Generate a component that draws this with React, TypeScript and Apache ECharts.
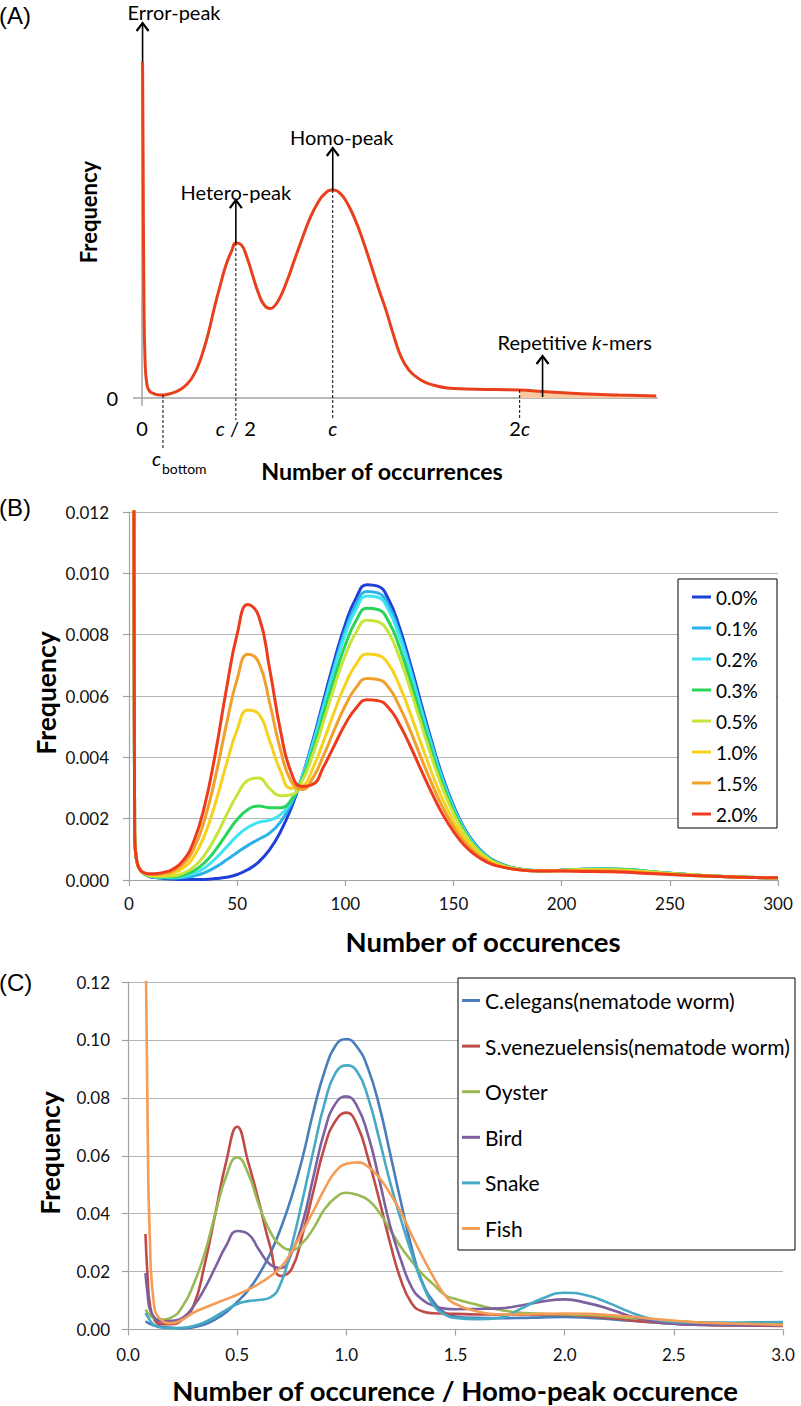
import React, { useEffect, useRef } from 'react';
import * as echarts from 'echarts';

// ---------------- Panel A (schematic) ----------------
const aX = [0.3, 0.6, 1.0, 1.6, 2.6, 4, 6, 8, 11, 14, 17, 20, 23, 26, 29, 32, 35, 38, 41, 44, 47, 49.2, 52, 55, 58, 61, 64, 67, 69, 72, 76, 80, 84, 88, 92, 96, 100, 104, 108, 112, 116, 120, 124, 128, 132, 136, 140, 144, 148, 153, 160, 170, 185, 198, 210, 230, 250, 269.6];
const aY = [100, 70, 30, 11.3, 3.9, 2.0, 1.35, 1.0, 0.9, 1.2, 1.7, 2.5, 3.8, 5.8, 9.0, 13.8, 19.8, 27, 33.5, 39.5, 43.8, 46.1, 45.6, 41.9, 36.5, 31.3, 27.7, 26.6, 27.1, 29.5, 34.8, 41.2, 47.5, 53.4, 57.9, 60.9, 61.9, 60.8, 57.6, 52.7, 46.6, 39.7, 32.6, 26.0, 18.5, 12.0, 8.3, 6.2, 4.8, 3.8, 3.0, 2.7, 2.5, 2.4, 1.9, 1.3, 0.9, 0.6];
const aTickValues = [0, 49.2, 100, 198];
const aTickLabels = ['0', '{i|c} / 2', '{i|c}', '2{i|c}'];
const aErrorX = 0.3;
const aHeteroX = 49.2;
const aHomoX = 100;
const aBottomX = 11;
const a2cX = 198;
const aRepeatX = 210;

// ---------------- Panel B (simulated heterozygosity) ----------------
const bX = [2, 2.6, 3.2, 4, 5, 6, 8, 10, 13, 16, 20, 25, 30, 35, 40, 45, 50, 55, 60, 65, 70, 75, 80, 85, 90, 95, 100, 105, 110, 115, 120, 125, 130, 135, 140, 145, 150, 155, 160, 165, 170, 180, 190, 200, 210, 220, 230, 240, 250, 260, 270, 280, 290, 300];
const bNames = ['0.0%', '0.1%', '0.2%', '0.3%', '0.5%', '1.0%', '1.5%', '2.0%'];
const bColors = ['#1f3fd9', '#2bb1ea', '#3fe3f2', '#28d45a', '#c5e53a', '#f7d11e', '#f0a02b', '#ee3a1d'];
const b00 = [0.02, 0.0015, 0.0008, 0.0005, 0.00035, 0.00026, 0.00016, 0.0001, 0.00007, 0.00005, 0.00003, 0.00002, 0.00002, 0.00002, 0.00005, 0.00009, 0.00018, 0.00034, 0.00059, 0.00099, 0.00157, 0.00235, 0.00336, 0.00455, 0.00587, 0.00718, 0.00834, 0.0092, 0.00963, 0.00958, 0.00915, 0.00824, 0.00706, 0.00577, 0.0045, 0.00336, 0.00243, 0.00169, 0.00117, 0.00081, 0.00058, 0.00036, 0.0003, 0.00032, 0.00035, 0.00036, 0.00034, 0.00028, 0.00022, 0.00017, 0.00013, 0.0001, 0.00008, 0.00007];
const b01 = [0.02, 0.0015, 0.0008, 0.0005, 0.00035, 0.00026, 0.00016, 0.00011, 0.00008, 0.00007, 0.00006, 0.00008, 0.00013, 0.00024, 0.00042, 0.00065, 0.0009, 0.00113, 0.00133, 0.00153, 0.00189, 0.00248, 0.00335, 0.00448, 0.00574, 0.00701, 0.00815, 0.00899, 0.00941, 0.00936, 0.00895, 0.00806, 0.00691, 0.00564, 0.00441, 0.00329, 0.00238, 0.00166, 0.00115, 0.0008, 0.00057, 0.00036, 0.0003, 0.00032, 0.00035, 0.00036, 0.00034, 0.00028, 0.00022, 0.00017, 0.00013, 0.0001, 0.00008, 0.00007];
const b02 = [0.02, 0.0015, 0.0008, 0.0005, 0.00035, 0.00026, 0.00017, 0.00012, 0.00009, 0.00008, 0.00008, 0.00012, 0.00022, 0.0004, 0.0007, 0.00107, 0.00144, 0.00172, 0.00188, 0.00195, 0.00213, 0.00258, 0.00336, 0.00442, 0.00566, 0.0069, 0.00802, 0.00884, 0.00926, 0.00922, 0.0088, 0.00793, 0.0068, 0.00555, 0.00434, 0.00324, 0.00234, 0.00164, 0.00113, 0.00079, 0.00057, 0.00036, 0.0003, 0.00032, 0.00035, 0.00036, 0.00034, 0.00028, 0.00022, 0.00017, 0.00013, 0.0001, 0.00008, 0.00007];
const b03 = [0.02, 0.0015, 0.0008, 0.0005, 0.00035, 0.00026, 0.00017, 0.00012, 0.0001, 0.0001, 0.0001, 0.00016, 0.0003, 0.00057, 0.00098, 0.00149, 0.00197, 0.0023, 0.00241, 0.00236, 0.00236, 0.00261, 0.00328, 0.00425, 0.00542, 0.0066, 0.00767, 0.00846, 0.00886, 0.00882, 0.00843, 0.0076, 0.00651, 0.00532, 0.00416, 0.00311, 0.00225, 0.00158, 0.00109, 0.00077, 0.00056, 0.00036, 0.0003, 0.00032, 0.00035, 0.00036, 0.00034, 0.00028, 0.00022, 0.00017, 0.00013, 0.0001, 0.00008, 0.00007];
const b05 = [0.02, 0.0015, 0.0008, 0.0005, 0.00035, 0.00026, 0.00018, 0.00013, 0.00012, 0.00012, 0.00013, 0.00022, 0.00043, 0.00082, 0.0014, 0.00211, 0.00277, 0.00325, 0.00333, 0.00298, 0.00275, 0.00278, 0.00322, 0.00409, 0.00518, 0.00632, 0.00733, 0.00808, 0.00847, 0.00842, 0.00806, 0.00726, 0.00623, 0.00509, 0.00398, 0.00298, 0.00216, 0.00152, 0.00106, 0.00075, 0.00054, 0.00035, 0.0003, 0.00031, 0.00034, 0.00034, 0.00032, 0.00027, 0.00021, 0.00017, 0.00013, 0.0001, 0.00008, 0.00007];
const b10 = [0.02, 0.0015, 0.0008, 0.0005, 0.00035, 0.00026, 0.00019, 0.00016, 0.00015, 0.00017, 0.00022, 0.00039, 0.00077, 0.00147, 0.00252, 0.00377, 0.0049, 0.00554, 0.00541, 0.00454, 0.00356, 0.00299, 0.00306, 0.00365, 0.00454, 0.0055, 0.00638, 0.00704, 0.00737, 0.00733, 0.00703, 0.00634, 0.00544, 0.00445, 0.00349, 0.00263, 0.00192, 0.00136, 0.00096, 0.00069, 0.00051, 0.00034, 0.0003, 0.00031, 0.00032, 0.00032, 0.0003, 0.00025, 0.0002, 0.00016, 0.00013, 0.0001, 0.00008, 0.00007];
const b15 = [0.02, 0.0015, 0.0008, 0.0005, 0.00035, 0.00027, 0.0002, 0.00018, 0.00018, 0.00021, 0.00028, 0.00052, 0.00103, 0.00198, 0.00338, 0.00506, 0.00655, 0.00736, 0.00709, 0.00578, 0.00425, 0.00321, 0.00295, 0.00333, 0.00407, 0.00491, 0.00569, 0.00628, 0.00657, 0.00654, 0.00628, 0.00566, 0.00487, 0.00399, 0.00314, 0.00237, 0.00174, 0.00124, 0.00088, 0.00064, 0.00048, 0.00034, 0.00029, 0.0003, 0.0003, 0.0003, 0.00028, 0.00023, 0.00019, 0.00015, 0.00012, 0.0001, 0.00008, 0.00007];
const b20 = [0.02, 0.0015, 0.0008, 0.0005, 0.00035, 0.00027, 0.00021, 0.0002, 0.00021, 0.00025, 0.00034, 0.00063, 0.00127, 0.00243, 0.00416, 0.00621, 0.00802, 0.00898, 0.0086, 0.00689, 0.00488, 0.0035, 0.00305, 0.00312, 0.0037, 0.0044, 0.00509, 0.00561, 0.00588, 0.00585, 0.00562, 0.00508, 0.00437, 0.00359, 0.00283, 0.00214, 0.00158, 0.00113, 0.00082, 0.0006, 0.00046, 0.00033, 0.00029, 0.00029, 0.00028, 0.00027, 0.00025, 0.00021, 0.00018, 0.00015, 0.00012, 0.0001, 0.00008, 0.00007];
const bSeries = [b00, b01, b02, b03, b05, b10, b15, b20];

// ---------------- Panel C (real genomes) ----------------
const cX = [0.08, 0.09, 0.1, 0.12, 0.15, 0.2, 0.25, 0.3, 0.35, 0.4, 0.45, 0.5, 0.55, 0.6, 0.65, 0.7, 0.75, 0.8, 0.85, 0.9, 0.95, 1.0, 1.05, 1.1, 1.15, 1.2, 1.25, 1.3, 1.35, 1.4, 1.45, 1.5, 1.6, 1.7, 1.8, 1.9, 2.0, 2.1, 2.2, 2.3, 2.4, 2.5, 2.6, 2.7, 2.8, 2.9, 3.0];
const cNames = ['C.elegans(nematode worm)', 'S.venezuelensis(nematode worm)', 'Oyster', 'Bird', 'Snake', 'Fish'];
const cColors = ['#4a7ebb', '#be4b48', '#98b954', '#7d60a0', '#46aac5', '#f59d56'];
const cElegans = [0.0028, 0.0024, 0.002, 0.0014, 0.001, 0.0006, 0.0004, 0.0008, 0.0017, 0.0035, 0.006, 0.0095, 0.0135, 0.019, 0.026, 0.035, 0.046, 0.0595, 0.0755, 0.089, 0.098, 0.1003, 0.0975, 0.09, 0.0775, 0.061, 0.044, 0.028, 0.016, 0.0095, 0.0058, 0.0045, 0.004, 0.0039, 0.004, 0.0042, 0.0043, 0.0041, 0.0036, 0.003, 0.0025, 0.002, 0.0017, 0.0015, 0.0015, 0.0016, 0.0018];
const cSvenez = [0.033, 0.018, 0.009, 0.0035, 0.0019, 0.0018, 0.0035, 0.0082, 0.022, 0.04, 0.058, 0.07, 0.058, 0.044, 0.029, 0.0185, 0.021, 0.033, 0.048, 0.063, 0.072, 0.0749, 0.0705, 0.059, 0.045, 0.03, 0.0171, 0.009, 0.0062, 0.0056, 0.0055, 0.0054, 0.0052, 0.0051, 0.0051, 0.0051, 0.005, 0.0047, 0.004, 0.0032, 0.0025, 0.002, 0.0017, 0.0015, 0.0014, 0.0013, 0.0012];
const cOyster = [0.0068, 0.0058, 0.005, 0.0038, 0.0034, 0.0042, 0.008, 0.0155, 0.026, 0.04, 0.053, 0.0595, 0.054, 0.043, 0.034, 0.029, 0.0275, 0.03, 0.035, 0.0415, 0.0455, 0.0472, 0.0465, 0.0447, 0.0405, 0.0345, 0.0285, 0.0235, 0.019, 0.0155, 0.012, 0.0105, 0.0085, 0.0068, 0.0058, 0.0054, 0.0052, 0.005, 0.0046, 0.004, 0.0034, 0.0029, 0.0025, 0.0022, 0.002, 0.0018, 0.0016];
const cBird = [0.0195, 0.012, 0.007, 0.0042, 0.0028, 0.003, 0.004, 0.008, 0.014, 0.0215, 0.029, 0.034, 0.033, 0.0275, 0.0225, 0.0212, 0.0265, 0.037, 0.053, 0.0685, 0.078, 0.0805, 0.077, 0.067, 0.052, 0.036, 0.024, 0.0145, 0.0102, 0.0082, 0.0072, 0.007, 0.0071, 0.0073, 0.0083, 0.0097, 0.0104, 0.0092, 0.0072, 0.0046, 0.0029, 0.002, 0.0017, 0.0016, 0.0015, 0.0015, 0.0014];
const cSnake = [0.0057, 0.0045, 0.0032, 0.0015, 0.0007, 0.0005, 0.0006, 0.0012, 0.0025, 0.0045, 0.0068, 0.0088, 0.0098, 0.0102, 0.011, 0.016, 0.029, 0.045, 0.062, 0.078, 0.0885, 0.0912, 0.089, 0.08, 0.066, 0.051, 0.038, 0.026, 0.0155, 0.0083, 0.0052, 0.004, 0.0036, 0.004, 0.0072, 0.0108, 0.0127, 0.0118, 0.0092, 0.006, 0.0036, 0.0026, 0.0024, 0.0024, 0.0024, 0.0025, 0.0026];
const cFish = [0.14, 0.07, 0.032, 0.008, 0.0035, 0.0022, 0.0035, 0.0058, 0.0075, 0.009, 0.0105, 0.012, 0.0138, 0.0158, 0.0183, 0.0215, 0.027, 0.034, 0.041, 0.0485, 0.0545, 0.0572, 0.0577, 0.0562, 0.0525, 0.047, 0.0405, 0.0325, 0.025, 0.018, 0.012, 0.0088, 0.0062, 0.0052, 0.0052, 0.0054, 0.0055, 0.0054, 0.005, 0.0044, 0.0037, 0.003, 0.0025, 0.0022, 0.002, 0.0018, 0.0016];
const cSeries = [cElegans, cSvenez, cOyster, cBird, cSnake, cFish];

const FONT = 'Lato';
const AXIS_GRAY = '#a3a3a3';
const GRID_GRAY = '#b5b5b5';
const LABEL_COLOR = '#111';

function buildOption(): any {
  const tickLabel = (size: number) => ({ fontSize: size, fontFamily: FONT, color: LABEL_COLOR });
  return {
    animation: false,
    backgroundColor: '#fff',
    grid: [
      { left: 142, top: 62, width: 515, height: 336, outerBoundsMode: 'none' },
      { left: 129, top: 512, width: 649, height: 368, outerBoundsMode: 'none' },
      { left: 128, top: 982, width: 655, height: 347.5, outerBoundsMode: 'none' },
    ],
    xAxis: [
      {
        gridIndex: 0, type: 'value', min: 0, max: 270,
        axisLine: { show: true, lineStyle: { color: AXIS_GRAY, width: 1.5 } },
        axisTick: { show: true, customValues: [0], length: 8, lineStyle: { color: AXIS_GRAY, width: 1.5 } },
        axisLabel: {
          show: true, customValues: aTickValues, margin: 20, ...tickLabel(20), color: '#000',
          formatter: (v: number) => { const k = aTickValues.indexOf(v); return k >= 0 ? aTickLabels[k] : ''; },
          rich: { i: { fontStyle: 'italic', fontSize: 20, fontFamily: FONT, color: '#000' } },
        },
        splitLine: { show: false },
      },
      {
        gridIndex: 1, type: 'value', min: 0, max: 300, interval: 50,
        axisLine: { show: true, lineStyle: { color: AXIS_GRAY, width: 1.2 } },
        axisTick: { show: true, length: 6, lineStyle: { color: AXIS_GRAY, width: 1.2 } },
        axisLabel: { margin: 15, ...tickLabel(17) },
        splitLine: { show: false },
      },
      {
        gridIndex: 2, type: 'value', min: 0, max: 3, interval: 0.5,
        axisLine: { show: true, lineStyle: { color: AXIS_GRAY, width: 1.2 } },
        axisTick: { show: true, length: 6, lineStyle: { color: AXIS_GRAY, width: 1.2 } },
        axisLabel: { margin: 16, ...tickLabel(17), formatter: (v: number) => v.toFixed(1) },
        splitLine: { show: false },
      },
    ],
    yAxis: [
      {
        gridIndex: 0, type: 'value', min: 0, max: 100,
        axisLine: { show: true, lineStyle: { color: AXIS_GRAY, width: 1.5 } },
        axisTick: { show: true, customValues: [0], length: 9, lineStyle: { color: AXIS_GRAY, width: 1.5 } },
        axisLabel: { show: true, customValues: [0], margin: 24, ...tickLabel(20), color: '#000', formatter: () => '0' },
        splitLine: { show: false },
      },
      {
        gridIndex: 1, type: 'value', min: 0, max: 0.012, interval: 0.002,
        axisLine: { show: true, lineStyle: { color: AXIS_GRAY, width: 1.2 } },
        axisTick: { show: true, length: 6, lineStyle: { color: AXIS_GRAY, width: 1.2 } },
        axisLabel: { margin: 20, ...tickLabel(17), formatter: (v: number) => v.toFixed(3) },
        splitLine: { show: true, lineStyle: { color: GRID_GRAY, width: 1.2 } },
      },
      {
        gridIndex: 2, type: 'value', min: 0, max: 0.12, interval: 0.02,
        axisLine: { show: true, lineStyle: { color: AXIS_GRAY, width: 1.2 } },
        axisTick: { show: true, length: 6, lineStyle: { color: AXIS_GRAY, width: 1.2 } },
        axisLabel: { margin: 18, ...tickLabel(17), formatter: (v: number) => v.toFixed(2) },
        splitLine: { show: true, lineStyle: { color: GRID_GRAY, width: 1.2 } },
      },
    ],
    legend: [
      {
        data: bNames, orient: 'vertical', left: 678, top: 579, icon: 'rect',
        padding: [8, 8, 4, 14], itemWidth: 19, itemHeight: 3, itemGap: 11,
        selectedMode: false, z: 5,
        textStyle: { fontSize: 19, fontFamily: FONT, color: '#000', lineHeight: 20 },
      },
      {
        data: cNames, orient: 'vertical', left: 458, top: 978, icon: 'rect',
        padding: [12, 8, 12, 4], itemWidth: 18, itemHeight: 3, itemGap: 24.6,
        selectedMode: false, z: 5,
        textStyle: { fontSize: 21, fontFamily: FONT, color: '#000', lineHeight: 20 },
      },
    ],
    series: [
      {
        name: 'repeat-area', type: 'line', xAxisIndex: 0, yAxisIndex: 0, smooth: 0.5, symbol: 'none', z: 1,
        data: aX.map((x, i) => [x, aY[i]]).filter((d) => d[0] >= a2cX),
        lineStyle: { width: 0, opacity: 0 }, areaStyle: { color: '#f8c9a0', opacity: 1 },
      },
      {
        name: 'spectrum', type: 'line', xAxisIndex: 0, yAxisIndex: 0, smooth: 0.5, symbol: 'none', z: 3,
        data: aX.map((x, i) => [x, aY[i]]),
        lineStyle: { width: 3, color: '#e8401c' }, itemStyle: { color: '#e8401c' },
      },
      ...bNames.map((n, i) => ({
        name: n, type: 'line', xAxisIndex: 1, yAxisIndex: 1, smooth: 0.5, symbol: 'none', clip: true,
        data: bX.map((x, j) => [x, bSeries[i][j]]),
        lineStyle: { width: 3, color: bColors[i] }, itemStyle: { color: bColors[i] },
      })),
      ...cNames.map((n, i) => ({
        name: n, type: 'line', xAxisIndex: 2, yAxisIndex: 2, smooth: 0.5, symbol: 'none', clip: true,
        data: cX.map((x, j) => [x, cSeries[i][j]]),
        lineStyle: { width: 2.6, color: cColors[i] }, itemStyle: { color: cColors[i] },
      })),
    ],
  };
}

export default function App() {
  const ref = useRef<HTMLDivElement>(null);
  useEffect(() => {
    document.body.style.margin = '0';
    const chart = echarts.init(ref.current!, null, { renderer: 'svg' });
    chart.setOption(buildOption());

    const P = (x: number, y: number) => chart.convertToPixel({ gridIndex: 0 } as any, [x, y]) as number[];
    const yAt = (x: number) => aY[aX.indexOf(x)];
    const base = P(0, 0)[1];
    const els: any[] = [];
    const arrow = (x: number, y0: number, y1: number) => {
      els.push({ type: 'line', z: 10, shape: { x1: x, y1: y0, x2: x, y2: y1 + 1 }, style: { stroke: '#000', lineWidth: 1.6 } });
      els.push({ type: 'polyline', z: 10, shape: { points: [[x - 6, y1 + 8], [x, y1], [x + 6, y1 + 8]] }, style: { stroke: '#000', lineWidth: 2.2, fill: 'none' } });
    };
    const dash = (x: number, y0: number, y1: number) => {
      els.push({ type: 'line', z: 9, shape: { x1: x, y1: y0, x2: x, y2: y1 }, style: { stroke: '#000', lineWidth: 1, lineDash: [3, 2] } });
    };
    const text = (t: string, x: number, y: number, extra: any = {}) => {
      const size = extra.size || 20;
      els.push({
        type: 'text', z: 10, x, y, rotation: extra.rotation || 0,
        style: {
          text: t, fontSize: size, lineHeight: size, fontFamily: extra.family || FONT, fontWeight: extra.weight || 'normal',
          fontStyle: extra.style || 'normal', fill: '#000', align: extra.align || 'center', verticalAlign: 'middle',
          rich: { i: { fontStyle: 'italic', fontSize: size, lineHeight: size, fontFamily: FONT, fill: '#000' } },
        },
      });
    };

    // Panel A annotations anchored on the data
    const pe = P(aErrorX, yAt(aErrorX));
    arrow(pe[0], pe[1], pe[1] - 39);
    text('Error-peak', pe[0] - 15, pe[1] - 50, { align: 'left' });

    const ph = P(aHeteroX, yAt(aHeteroX));
    dash(ph[0], ph[1], base + 22);
    arrow(ph[0], ph[1], ph[1] - 43);
    text('Hetero-peak', ph[0], ph[1] - 51);

    const pm = P(aHomoX, yAt(aHomoX));
    dash(pm[0], pm[1], base + 22);
    arrow(pm[0], pm[1], pm[1] - 42);
    text('Homo-peak', pm[0] + 9, pm[1] - 53);

    const pb = P(aBottomX, yAt(aBottomX));
    dash(pb[0], pb[1], base + 52);
    text('c', pb[0] - 11, base + 60, { align: 'left', style: 'italic' });
    text('bottom', pb[0] - 1, base + 70, { align: 'left', size: 14 });

    const p2 = P(a2cX, yAt(a2cX));
    dash(p2[0], p2[1], base + 22);

    const pr = P(aRepeatX, 0);
    arrow(pr[0], base - 1, base - 42);
    text('Repetitive {i|k}-mers', pr[0] - 45, base - 56, { align: 'left' });

    // Legend frames
    els.push({ type: 'rect', z: 3, shape: { x: 678, y: 579, width: 99, height: 249 }, style: { fill: '#fff', stroke: '#000', lineWidth: 1 } });
    els.push({ type: 'rect', z: 3, shape: { x: 458, y: 978, width: 337, height: 272 }, style: { fill: '#fff', stroke: '#000', lineWidth: 1 } });

    // Panel labels and axis titles
    text('(A)', -1, 15, { align: 'left', size: 24, family: 'Liberation Sans' });
    text('(B)', -1, 507, { align: 'left', size: 24, family: 'Liberation Sans' });
    text('(C)', -1, 982, { align: 'left', size: 24, family: 'Liberation Sans' });
    text('Frequency', 88, 212, { size: 22, weight: 'bold', rotation: Math.PI / 2 });
    text('Number of occurrences', 382, 471, { size: 23.3, weight: 'bold' });
    text('Frequency', 46, 693, { size: 26.5, weight: 'bold', rotation: Math.PI / 2 });
    text('Number of occurences', 483, 941, { size: 27.5, weight: 'bold' });
    text('Frequency', 50, 1153, { size: 26.5, weight: 'bold', rotation: Math.PI / 2 });
    text('Number of occurence / Homo-peak occurence', 455, 1390, { size: 27.5, weight: 'bold' });

    chart.setOption({ graphic: { elements: els } });
    return () => chart.dispose();
  }, []);
  return <div ref={ref} style={{ width: 801, height: 1406 }} />;
}
